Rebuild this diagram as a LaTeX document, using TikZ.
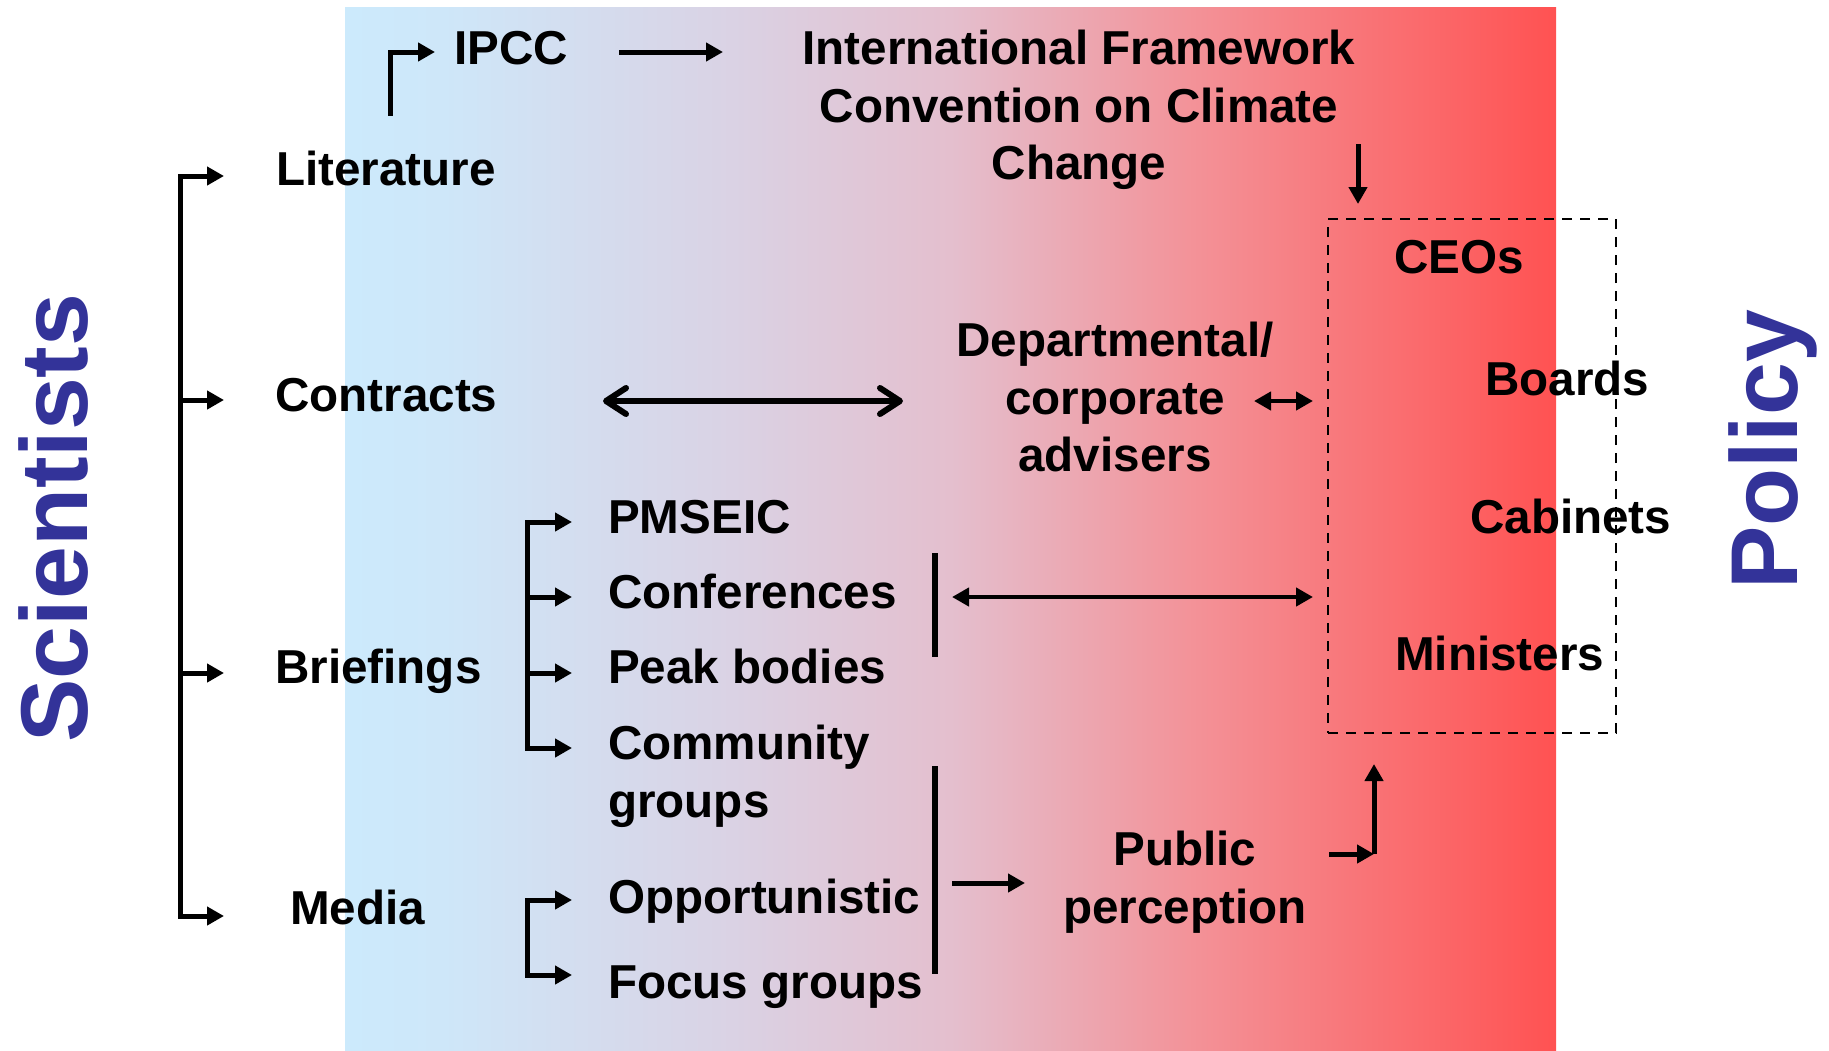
\documentclass[tikz,border=0pt]{standalone}
\usepackage{fontspec}
\setmainfont{Liberation Sans}
\usetikzlibrary{arrows.meta}
\definecolor{g0}{RGB}{204,234,252}
\definecolor{g1}{RGB}{206,231,249}
\definecolor{g2}{RGB}{218,210,228}
\definecolor{g3}{RGB}{228,191,206}
\definecolor{g4}{RGB}{243,146,152}
\definecolor{g5}{RGB}{255,82,82}
\definecolor{sideblue}{RGB}{51,51,153}
\pgfdeclarehorizontalshading{bgshade}{100bp}{color(0bp)=(g0); color(25bp)=(g0); color(29bp)=(g1); color(41bp)=(g2); color(50bp)=(g3); color(60bp)=(g4); color(75bp)=(g5); color(100bp)=(g5)}
\tikzset{
  txt/.style={font=\fontsize{47.6}{57.5}\selectfont\bfseries, inner sep=0pt},
  side/.style={font=\fontsize{95}{100}\selectfont\bfseries, inner sep=0pt, text=sideblue},
  ln/.style={line width=5pt},
  bar/.style={line width=6pt},
  arr/.style={line width=5pt, -{Triangle[length=17pt,width=18pt]}},
  darr/.style={line width=4.5pt, {Triangle[length=17pt,width=18pt]}-{Triangle[length=17pt,width=18pt]}},
  barb/.style={line width=6pt, {Straight Barb[length=20pt,width=26pt,round]}-{Straight Barb[length=20pt,width=26pt,round]}},
  dbox/.style={draw, line width=2.5pt, dash pattern=on 10pt off 8pt, inner sep=0pt, minimum width=288pt, minimum height=514pt}
}
\begin{document}
\begin{tikzpicture}[x=1pt,y=-1pt]
\useasboundingbox (0,0) rectangle (1829,1050);
\shade[shading=bgshade] (345,7) rectangle (1556,1050);

% side titles
\node[side,rotate=90,anchor=base] (sci) at (87,518) {Scientists};
\node[side,rotate=90,anchor=base] (pol) at (1797,450) {Policy};

% texts
\node[txt,anchor=base west] (ipcc) at (454,64) {IPCC};
\node[txt,anchor=north,align=center] (ifccc) at (1079,30) {International Framework\\Convention on Climate\\Change};
\node[txt,anchor=base west] (lit) at (276,185) {Literature};
\node[txt,anchor=base west] (con) at (275,411) {Contracts};
\node[txt,anchor=base west] (bri) at (275,683) {Briefings};
\node[txt,anchor=base west] (med) at (290,924) {Media};
\node[txt,anchor=base west] (pms) at (608,533) {PMSEIC};
\node[txt,anchor=base west] (conf) at (608,608) {Conferences};
\node[txt,anchor=base west] (peak) at (608,683) {Peak bodies};
\node[txt,anchor=north west,align=left] (comm) at (608,725) {Community\\groups};
\node[txt,anchor=north west] (opp) at (608,879) {Opportunistic};
\node[txt,anchor=base west] (foc) at (608,998) {Focus groups};
\node[txt,anchor=north,align=center] (adv) at (1115,322) {Departmental/\\corporate\\advisers};
\node[txt,anchor=north,align=center] (pub) at (1185,831) {Public\\perception};
\node[dbox] (box) at (1472,476) {};
\node[txt,anchor=base west] (ceo) at (1394,273) {CEOs};
\node[txt,anchor=base west] (brd) at (1485,395) {Boards};
\node[txt,anchor=base west] (cab) at (1470,533) {Cabinets};
\node[txt,anchor=base west] (min) at (1395,670) {Ministers};

% main bracket
\coordinate (m1) at (180,176);
\coordinate (m2) at (180,400);
\coordinate (m3) at (180,673);
\coordinate (m4) at (180,916);
\draw[ln,line cap=rect] (m1) -- (m4);
\draw[arr] (m1) -- (224,176);
\draw[arr] (m2) -- (224,400);
\draw[arr] (m3) -- (224,673);
\draw[arr] (m4) -- (224,916);

% IPCC
\coordinate (ip0) at (390,113);
\coordinate (ip1) at (390,52);
\coordinate (ip2) at (435,52);
\draw[ln,line cap=rect] (ip0) -- (ip1);
\draw[arr] (ip1) -- (ip2);
\coordinate (ia) at (619,52);
\coordinate (ib) at (723,52);
\draw[arr] (ia) -- (ib);
\coordinate (da) at (1358,144);
\coordinate (db) at (1358,204);
\draw[arr] (da) -- (db);

% contracts
\coordinate (ca) at (603,401);
\coordinate (cb) at (903,401);
\draw[barb] (ca) -- (cb);
\coordinate (aa) at (1254,401);
\coordinate (ab) at (1313,401);
\draw[darr] (aa) -- (ab);

% briefings sub bracket
\coordinate (s1) at (527,522);
\coordinate (s2) at (527,597);
\coordinate (s3) at (527,673);
\coordinate (s4) at (527,748);
\draw[ln,line cap=rect] (s1) -- (s4);
\draw[arr] (s1) -- (572,522);
\draw[arr] (s2) -- (572,597);
\draw[arr] (s3) -- (572,673);
\draw[arr] (s4) -- (572,748);

% media sub bracket
\coordinate (r1) at (527,900);
\coordinate (r2) at (527,975);
\draw[ln,line cap=rect] (r1) -- (r2);
\draw[arr] (r1) -- (572,900);
\draw[arr] (r2) -- (572,975);

% bars
\coordinate (v1a) at (935,553);
\coordinate (v1b) at (935,657);
\draw[bar] (v1a) -- (v1b);
\coordinate (v2a) at (935,766);
\coordinate (v2b) at (935,974);
\draw[bar] (v2a) -- (v2b);

\coordinate (fa) at (952,597);
\coordinate (fb) at (1313,597);
\draw[darr] (fa) -- (fb);
\coordinate (pa) at (952,883);
\coordinate (pb) at (1025,883);
\draw[arr] (pa) -- (pb);

\coordinate (qa) at (1329,854);
\coordinate (qb) at (1374,854);
\coordinate (qc) at (1374,764);
\draw[arr] (qa) -- (qb);
\draw[arr] (qb) -- (qc);
\end{tikzpicture}
\end{document}
